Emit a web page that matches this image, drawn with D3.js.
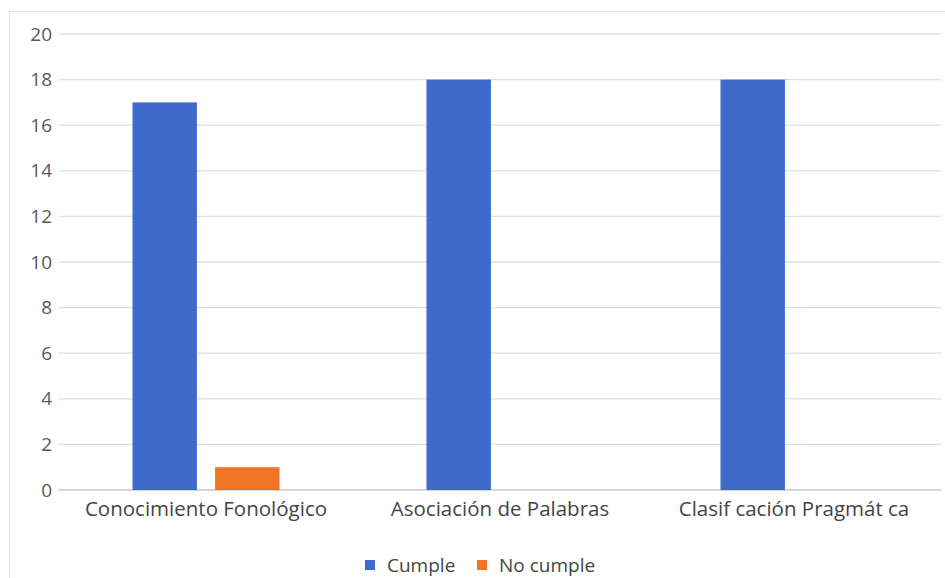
<!DOCTYPE html>
<html>
<head>
<meta charset="utf-8">
<script src="https://cdn.jsdelivr.net/npm/d3@7"></script>
<style>
  body { margin: 0; background: #fff; }
  svg text { font-family: "Open Sans", "Noto Sans", sans-serif; }
</style>
</head>
<body>
<svg id="chart" width="945" height="578"></svg>
<script>
const categories = ["Conocimiento Fonológico", "Asociación de Palabras", "Clasif cación Pragmát ca"];
const seriesNames = ["Cumple", "No cumple"];
const cumple = [17, 18, 18];
const noCumple = [1, 0, 0];
const yTicks = [0, 2, 4, 6, 8, 10, 12, 14, 16, 18, 20];
const colors = ["#3E6BCB", "#EF7424"];

const margin = {top: 34, right: 4, bottom: 88, left: 59};
const width = 945 - margin.left - margin.right;
const height = 578 - margin.top - margin.bottom;

const svg = d3.select("#chart");

// faint frame of the pasted chart
svg.append("rect")
    .attr("x", 9.5).attr("y", 11.5)
    .attr("width", 945).attr("height", 578)
    .attr("fill", "none").attr("stroke", "#e3e3e3");

const g = svg.append("g").attr("transform", `translate(${margin.left},${margin.top})`);

const x0 = d3.scaleBand().domain(categories).range([0, width]).paddingInner(0).paddingOuter(0);
const x1 = d3.scaleBand().domain(seriesNames).range([x0.bandwidth() * 0.25, x0.bandwidth() * 0.75]).paddingInner(0.22);
const y = d3.scaleLinear().domain([0, 20]).range([height, 0]);

// gridlines
g.append("g")
    .selectAll("line")
    .data(yTicks)
    .join("line")
    .attr("x1", 0).attr("x2", width)
    .attr("y1", d => y(d)).attr("y2", d => y(d))
    .attr("stroke", d => d === 0 ? "#c8c8c8" : "#dedede")
    .attr("stroke-width", 1.3);

// y axis labels
const yAxis = g.append("g").call(d3.axisLeft(y).tickValues(yTicks).tickSize(0).tickPadding(7));
yAxis.select(".domain").remove();
yAxis.selectAll("text").attr("font-size", 19).attr("fill", "#595959")
    .style("font-family", "'Open Sans', sans-serif");

// bars
const data = categories.map((c, i) => ({cat: c, values: [cumple[i], noCumple[i]]}));
const groups = g.selectAll(".grp").data(data).join("g")
    .attr("class", "grp")
    .attr("transform", d => `translate(${x0(d.cat)},0)`);
groups.selectAll("rect")
    .data(d => d.values.map((v, j) => ({name: seriesNames[j], v: v, j: j})))
    .join("rect")
    .filter(d => d.v > 0)
    .attr("x", d => x1(d.name))
    .attr("width", x1.bandwidth())
    .attr("y", d => y(d.v))
    .attr("height", d => height - y(d.v))
    .attr("fill", d => colors[d.j]);

// x axis labels
const xAxis = g.append("g").attr("transform", `translate(0,${height})`)
    .call(d3.axisBottom(x0).tickSize(0).tickPadding(11));
xAxis.select(".domain").remove();
xAxis.selectAll("text").attr("font-size", 20.5).attr("fill", "#454545")
    .style("font-family", "'Open Sans', sans-serif");

// legend
const legend = svg.append("g").attr("transform", "translate(365,565)");
const items = [{name: seriesNames[0], x: 0}, {name: seriesNames[1], x: 112}];
items.forEach((it, i) => {
  legend.append("rect").attr("x", it.x).attr("y", -5).attr("width", 10).attr("height", 10).attr("fill", colors[i]);
  legend.append("text").attr("x", it.x + 22).attr("y", 0).attr("dy", "0.35em")
      .attr("font-size", 19).attr("fill", "#454545").text(it.name);
});
</script>
</body>
</html>
